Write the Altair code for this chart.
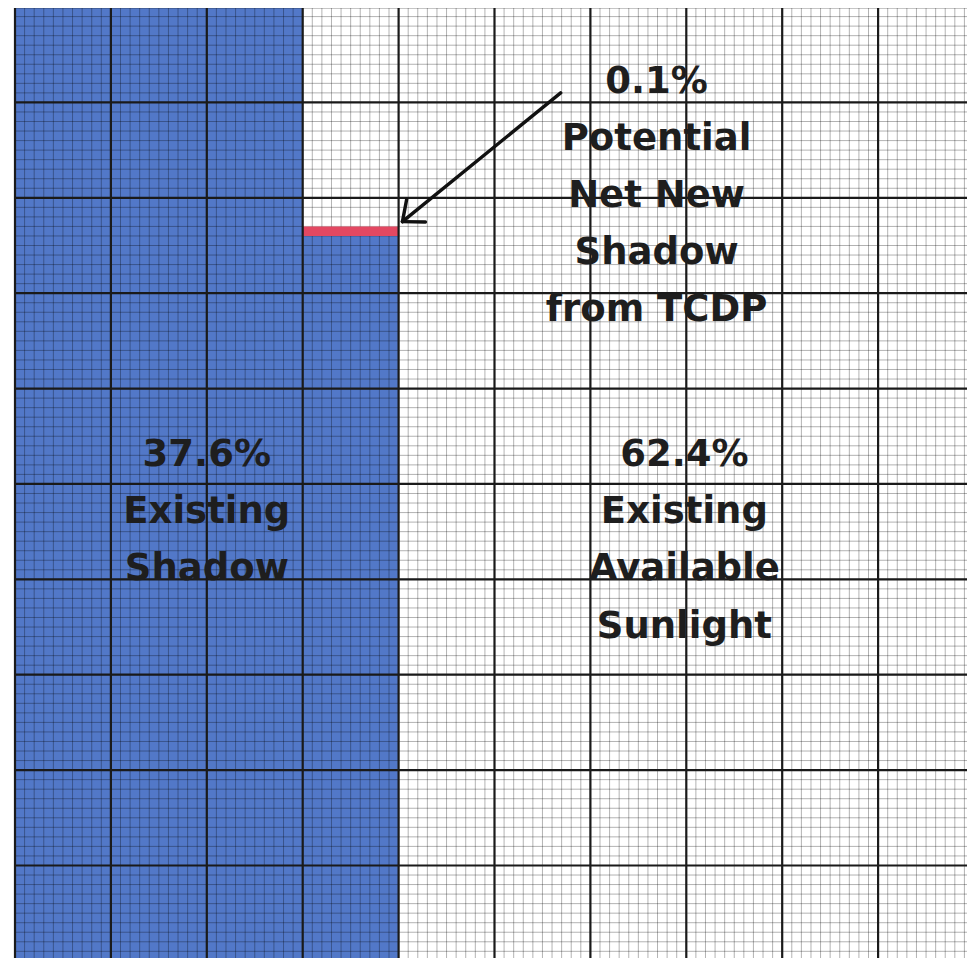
import math
import altair as alt
import numpy as np
import pandas as pd

# ---- data (percent of total area; 10 columns x 10 percent each) ----
columns = list(range(10))
existing_shadow = [10, 10, 10, 7.6, 0, 0, 0, 0, 0, 0]   # % of area per column
new_shadow = [0, 0, 0, 0.1, 0, 0, 0, 0, 0, 0]           # net new shadow per column

top_label = ["0.1%", "Potential", "Net New", "Shadow", "from TCDP"]
left_label = ["37.6%", "Existing", "Shadow"]
right_label = ["62.4%", "Existing", "Available", "Sunlight"]

W, H = 952, 950
XD = [0, 99.27]
YD = [0.3, 99.9]
xs = alt.Scale(domain=XD, nice=False, zero=False)
ys = alt.Scale(domain=YD, nice=False, zero=False)

df = pd.DataFrame({"col": columns, "shadow": existing_shadow, "new": new_shadow})
df["x"] = df["col"] * 10
df["x2"] = df["x"] + 10
df["y"] = 0.0
df["y2"] = df["shadow"] * 10
df["ny"] = df["shadow"] * 10
df["ny2"] = (df["shadow"] + df["new"]) * 10

base_df = df[df["shadow"] > 0]
new_df = df[df["new"] > 0]

shadow = alt.Chart(base_df).mark_rect(color="#5278c8").encode(
    x=alt.X("x:Q", scale=xs, axis=None),
    x2="x2:Q",
    y=alt.Y("y:Q", scale=ys, axis=None),
    y2="y2:Q",
)

red = alt.Chart(new_df).mark_rect(color="#e34862").encode(
    x=alt.X("x:Q", scale=xs, axis=None),
    x2="x2:Q",
    y=alt.Y("ny:Q", scale=ys, axis=None),
    y2="ny2:Q",
)

minor_df = pd.DataFrame({"v": np.arange(0, 101)})
major_df = pd.DataFrame({"v": np.arange(0, 101, 10)})

minor_v = alt.Chart(minor_df).mark_rule(color="#000000", opacity=0.3, strokeWidth=1).encode(
    x=alt.X("v:Q", scale=xs, axis=None), y=alt.value(0), y2=alt.value(H)
)
minor_h = alt.Chart(minor_df).mark_rule(color="#000000", opacity=0.3, strokeWidth=1).encode(
    y=alt.Y("v:Q", scale=ys, axis=None), x=alt.value(0), x2=alt.value(W)
)
major_v = alt.Chart(major_df).mark_rule(color="#1a1a1a", strokeWidth=2.2).encode(
    x=alt.X("v:Q", scale=xs, axis=None), y=alt.value(0), y2=alt.value(H)
)
major_h = alt.Chart(major_df).mark_rule(color="#1a1a1a", strokeWidth=2.2).encode(
    y=alt.Y("v:Q", scale=ys, axis=None), x=alt.value(0), x2=alt.value(W)
)

# ---- arrow annotation ----
sx, sy = 56.9, 91.0     # arrow start
tx, ty = 40.4, 77.5     # arrow tip
dx, dy = sx - tx, sy - ty
L = math.hypot(dx, dy)
ux, uy = dx / L, dy / L
head = 2.4
segs = [(sx, sy, tx, ty)]
for a in (math.radians(40), math.radians(-40)):
    rx = ux * math.cos(a) - uy * math.sin(a)
    ry = ux * math.sin(a) + uy * math.cos(a)
    segs.append((tx, ty, tx + head * rx, ty + head * ry))
arrow_df = pd.DataFrame(segs, columns=["x", "y", "x2", "y2"])
arrow = alt.Chart(arrow_df).mark_rule(color="#111111", strokeWidth=3.4, strokeCap="round").encode(
    x=alt.X("x:Q", scale=xs, axis=None), y=alt.Y("y:Q", scale=ys, axis=None),
    x2="x2:Q", y2="y2:Q"
)

# ---- text blocks ----
step = 5.98
rows = []
for i, t in enumerate(top_label):
    rows.append({"t": t, "x": 66.9, "y": 91.0 - i * step})
for i, t in enumerate(left_label):
    rows.append({"t": t, "x": 20.0, "y": 51.84 - i * step})
for i, t in enumerate(right_label):
    rows.append({"t": t, "x": 69.8, "y": 51.84 - i * step})
text_df = pd.DataFrame(rows)
texts = alt.Chart(text_df).mark_text(
    font="DejaVu Sans", fontWeight="bold", fontSize=37, baseline="alphabetic",
    align="center", color="#1e1e1e"
).encode(
    x=alt.X("x:Q", scale=xs, axis=None), y=alt.Y("y:Q", scale=ys, axis=None), text="t:N"
)

chart = alt.layer(
    shadow, minor_v, minor_h, red, major_v, major_h, arrow, texts
).properties(
    width=W, height=H,
    autosize=alt.AutoSizeParams(type="none"),
    padding={"left": 7, "top": 0, "right": 0, "bottom": 0},
    background="white",
).configure_view(stroke=None)

chart.save("out.html", embed_options={"renderer": "svg", "actions": False})
